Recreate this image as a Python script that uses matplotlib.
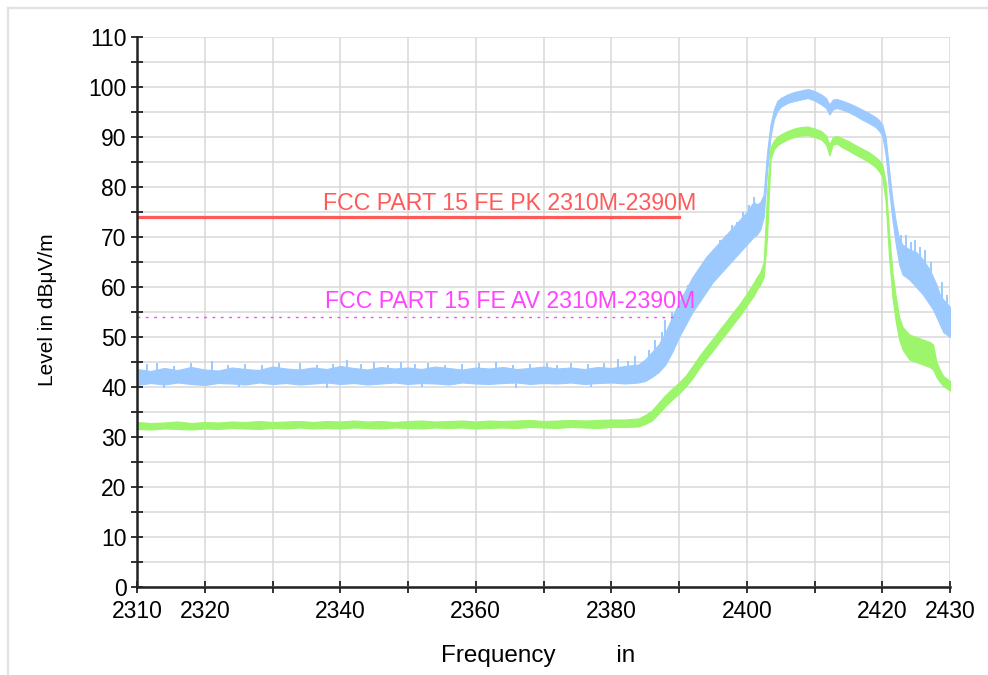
import matplotlib
matplotlib.use("Agg")
import matplotlib.pyplot as plt
from matplotlib.lines import Line2D

plt.rcParams['font.family'] = ['Liberation Sans', 'DejaVu Sans']

# frequency grid (MHz) the envelopes were read at
freq = [2310, 2312, 2314, 2316, 2318, 2320, 2322, 2324, 2326, 2328,
        2330, 2332, 2334, 2336, 2338, 2340, 2342, 2344, 2346, 2348,
        2350, 2352, 2354, 2356, 2358, 2360, 2362, 2364, 2366, 2368,
        2370, 2372, 2374, 2376, 2378, 2380, 2382, 2384,
        2385, 2386, 2387, 2388, 2389, 2390, 2391, 2392, 2393, 2394,
        2395, 2396, 2397, 2398, 2399, 2400, 2401,
        2401.5, 2402, 2402.5, 2403, 2403.5, 2404, 2404.5, 2405,
        2406, 2407, 2408, 2409, 2410, 2411,
        2411.7, 2412.2, 2412.7, 2413.3,
        2414, 2415, 2416, 2417, 2418, 2419,
        2419.5, 2420, 2420.5, 2421, 2421.5, 2422, 2422.5, 2423,
        2424, 2425, 2426, 2427, 2427.5, 2428, 2428.5, 2429, 2430]

# peak trace (blue): lower / upper edge of the noise band, dBuV/m
pk_lo = [40.4, 40.8, 40.5, 40.9, 40.6, 40.4, 40.8, 40.7, 40.5, 40.9,
         40.6, 40.8, 40.5, 40.7, 40.9, 40.6, 40.8, 40.5, 40.7, 40.9,
         40.6, 40.8, 40.7, 40.5, 40.9, 40.7, 40.6, 40.8, 40.9, 40.6,
         40.8, 40.7, 40.9, 40.6, 40.8, 40.9, 40.7, 40.9,
         41.2, 42.0, 43.0, 44.5, 47.0, 50.0, 52.5, 55.0, 57.0, 59.0,
         61.0, 62.5, 64.0, 65.5, 67.0, 68.5, 70.0,
         70.5, 71.5, 74.0, 83.0, 90.0, 93.5, 95.2, 96.0,
         96.8, 97.2, 97.5, 97.8, 97.3, 96.5,
         95.8, 94.5, 95.5, 95.8,
         95.5, 95.0, 94.3, 93.5, 92.8, 92.0,
         91.3, 90.3, 86.5, 79.5, 73.5, 68.5, 64.5, 62.5,
         61.5, 60.0, 58.5, 56.5, 55.5, 54.0, 52.5, 51.0, 50.0]
pk_hi = [43.6, 43.2, 43.8, 43.4, 44.0, 43.5, 43.3, 43.9, 43.6, 43.4,
         44.1, 43.7, 43.5, 43.9, 43.6, 44.2, 43.8, 43.5, 44.0, 43.7,
         43.9, 43.6, 44.1, 43.8, 43.5, 43.9, 43.7, 44.0, 43.6, 43.8,
         44.1, 43.7, 43.9, 43.6, 44.0, 43.8, 44.2, 44.5,
         45.5, 47.0, 48.5, 51.0, 54.0, 57.0, 59.5, 62.0, 64.0, 66.0,
         67.5, 69.0, 70.5, 72.0, 73.5, 75.0, 77.0,
         76.5, 77.0, 78.5, 87.0, 92.5, 95.5, 97.2, 97.8,
         98.5, 99.0, 99.3, 99.6, 99.2, 98.5,
         97.8, 96.5, 97.5, 97.6,
         97.3, 96.8, 96.2, 95.5, 94.8, 94.0,
         93.4, 92.5, 90.0, 83.5, 77.5, 73.0, 69.5, 68.5,
         67.5, 67.0, 65.5, 63.5, 62.0, 60.5, 58.5, 57.5, 56.0]

# average trace (green)
av_lo = [31.6, 31.5, 31.7, 31.6, 31.5, 31.7, 31.6, 31.8, 31.7, 31.6,
         31.8, 31.7, 31.9, 31.7, 31.8, 31.7, 31.9, 31.8, 31.7, 31.9,
         31.8, 31.7, 31.9, 31.8, 31.9, 31.7, 31.8, 31.9, 31.8, 32.0,
         31.9, 31.8, 32.0, 31.9, 31.8, 32.0, 32.0, 32.1,
         32.6, 33.3, 34.7, 36.2, 37.5, 38.7, 40.1, 41.8, 43.8, 45.6,
         47.3, 49.1, 50.8, 52.6, 54.3, 56.3, 58.2,
         59.5, 60.5, 62.0, 70.0, 85.5, 87.5, 88.3, 88.8,
         89.5, 90.0, 90.3, 90.4, 90.0, 89.5,
         88.5, 86.3, 88.5, 88.7,
         88.0, 87.3, 86.5, 85.8, 85.0, 84.0,
         83.2, 82.0, 77.0, 66.0, 58.0, 53.0, 49.5, 47.5,
         45.5, 45.0, 44.5, 44.0, 43.5, 42.0, 41.0, 40.2, 39.3]
av_hi = [33.0, 32.8, 32.9, 33.1, 32.8, 33.0, 32.9, 33.1, 33.0, 33.2,
         33.0, 33.1, 33.2, 33.0, 33.2, 33.1, 33.3, 33.1, 33.2, 33.0,
         33.2, 33.3, 33.1, 33.2, 33.3, 33.1, 33.3, 33.2, 33.3, 33.4,
         33.2, 33.3, 33.4, 33.3, 33.4, 33.5, 33.5, 33.7,
         34.4, 35.3, 36.9, 38.4, 39.7, 40.9, 42.3, 44.2, 46.2, 48.0,
         49.7, 51.5, 53.2, 55.0, 56.7, 58.7, 60.8,
         62.0, 63.0, 65.0, 79.0, 88.0, 89.3, 90.0, 90.5,
         91.2, 91.7, 92.0, 92.1, 91.7, 91.2,
         90.3, 88.5, 90.0, 90.2,
         89.8, 89.2, 88.4, 87.7, 87.0, 86.0,
         85.4, 84.5, 81.0, 71.0, 63.0, 58.0, 54.0, 52.0,
         50.5, 50.0, 49.5, 49.0, 48.5, 45.0, 43.5, 42.2, 41.2]

# single spikes sticking out of the peak band
spike_f = [2311.5, 2313, 2315.5, 2318, 2321, 2323.5, 2326, 2328.5, 2331, 2334,
           2336.5, 2339, 2341, 2343, 2345, 2347, 2349, 2351, 2353, 2355.5,
           2358, 2360.5, 2363, 2365.5, 2368, 2370.5, 2372, 2374, 2376.5, 2379,
           2381, 2382.5, 2383.5,
           2314, 2325, 2338, 2352, 2366, 2377,
           2385.5, 2386.5, 2387.5, 2388, 2389, 2390.5, 2391.3, 2392, 2393.5, 2394.3,
           2395.2, 2396, 2397, 2397.8, 2398.6, 2399.5, 2400.3, 2401,
           2422.8, 2423.5, 2424.2, 2424.8, 2425.5, 2426.3, 2427.2, 2428.8, 2429.5]
spike_lo = [43.0, 43.0, 43.0, 43.0, 43.0, 43.0, 43.0, 43.0, 43.0, 43.0,
            43.0, 43.0, 43.0, 43.0, 43.0, 43.0, 43.0, 43.0, 43.0, 43.0,
            43.0, 43.0, 43.0, 43.0, 43.0, 43.0, 43.0, 43.0, 43.0, 43.0,
            43.5, 43.5, 43.8,
            39.9, 40.0, 39.8, 40.0, 39.9, 40.0,
            44.5, 46.0, 47.5, 49.0, 52.0, 56.0, 58.0, 59.5, 61.5, 63.5,
            65.0, 66.5, 67.5, 69.0, 70.0, 71.5, 73.0, 74.5,
            67.0, 66.0, 65.0, 65.0, 64.0, 63.0, 61.0, 56.0, 54.0]
spike_hi = [44.6, 44.8, 44.3, 44.9, 45.2, 44.5, 44.7, 44.4, 44.8, 44.9,
            44.5, 44.7, 45.5, 44.6, 45.1, 44.4, 45.0, 44.6, 44.8, 44.5,
            44.6, 44.9, 45.0, 44.5, 44.7, 44.8, 44.4, 44.9, 44.6, 44.8,
            45.6, 45.2, 46.2,
            41.0, 41.0, 41.0, 41.0, 41.0, 41.0,
            47.5, 49.5, 51.0, 53.5, 55.0, 58.5, 60.5, 61.8, 64.0, 66.0,
            67.5, 69.5, 70.5, 72.5, 73.0, 75.0, 76.5, 78.0,
            70.5, 70.5, 69.0, 69.5, 68.0, 67.5, 65.0, 61.0, 58.5]

# limit lines
pk_limit = 74
av_limit = 54
limit_start, limit_stop = 2310, 2390

fig = plt.figure(figsize=(9.88, 6.75), dpi=100)
ax = fig.add_axes([137/988, 1 - 587/675, 813/988, 550/675])

blue = '#9ccaff'
green = '#9cf56a'

ax.fill_between(freq, pk_lo, pk_hi, color=blue, lw=0.8, zorder=3)
ax.vlines(spike_f, spike_lo, spike_hi, color=blue, lw=1.4, zorder=3)
ax.fill_between(freq, av_lo, av_hi, color=green, lw=0.8, zorder=4)

ax.plot([limit_start, limit_stop], [pk_limit, pk_limit], color='#ff5a5a', lw=2.3, zorder=5)
ax.plot([limit_start, limit_stop], [av_limit, av_limit], color='#ff44ff', lw=1,
        linestyle=(0, (2, 4)), zorder=5)
ax.text(2392.6, 75.4, 'FCC PART 15 FE PK 2310M-2390M', color='#ff5a5a',
        fontsize=16.7, ha='right', va='baseline', zorder=6)
ax.text(2392.4, 55.7, 'FCC PART 15 FE AV 2310M-2390M', color='#ff44ff',
        fontsize=16.7, ha='right', va='baseline', zorder=6)

# Osie
ax.set_xlim(2310, 2430)
ax.set_ylim(0, 110)
xt = list(range(2310, 2431, 10))
ax.set_xticks(xt)
ax.set_xticklabels([str(v) if v in (2310, 2320, 2340, 2360, 2380, 2400, 2420, 2430) else ''
                    for v in xt])
ax.set_yticks(range(0, 111, 10))
ax.set_yticks(range(5, 110, 10), minor=True)
ax.tick_params(axis='both', which='both', direction='inout', length=9, width=1.3,
               labelsize=16.5, color='#222222')
ax.tick_params(axis='x', pad=5)
ax.tick_params(axis='y', pad=3)

ax.grid(True, which='major', axis='x', color='#d9d9d9', lw=1.1)
ax.grid(True, which='both', axis='y', color='#d9d9d9', lw=1.1)
ax.set_axisbelow(True)

for s in ('top', 'right'):
    ax.spines[s].set_visible(False)
for s in ('left', 'bottom'):
    ax.spines[s].set_linewidth(1.8)
    ax.spines[s].set_color('#222222')
    ax.spines[s].set_zorder(7)

ax.set_ylabel('Level in dBμV/m', fontsize=15)
ax.yaxis.set_label_coords(-0.098, 0.505)
ax.set_xlabel('Frequency         in', fontsize=17.5)
ax.xaxis.set_label_coords(0.493, -0.106)

# ramka obrazka (tylko góra i lewa)
fig.add_artist(Line2D([8/988, 1], [1 - 8/675, 1 - 8/675], transform=fig.transFigure,
                      color='#e2e2e2', lw=1.6))
fig.add_artist(Line2D([8/988, 8/988], [0, 1 - 8/675], transform=fig.transFigure,
                      color='#e2e2e2', lw=1.6))

fig.savefig('out.png', dpi=100)
